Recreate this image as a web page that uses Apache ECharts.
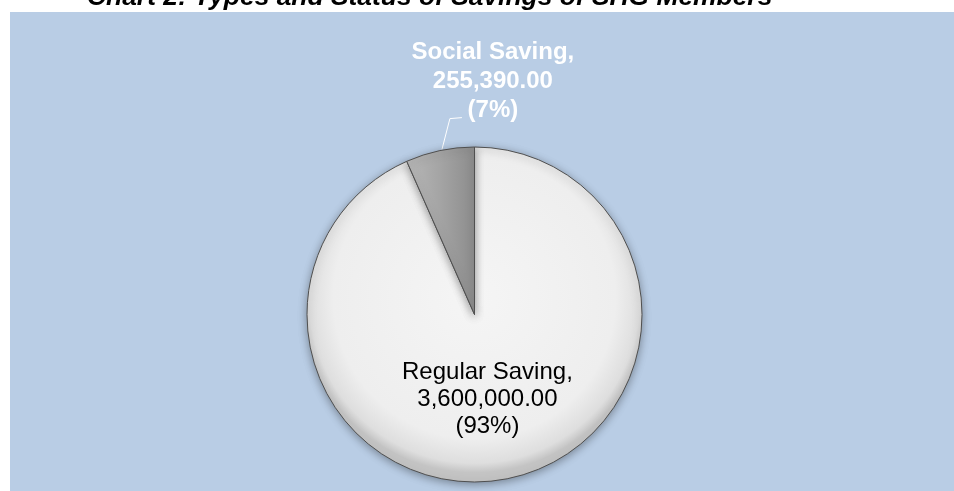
<!DOCTYPE html>
<html>
<head>
<meta charset="utf-8">
<script src="https://cdn.jsdelivr.net/npm/echarts@6/dist/echarts.min.js"></script>
<style>
  html, body { margin: 0; padding: 0; background: #ffffff; }
  #chart { width: 954px; height: 491px; }
</style>
</head>
<body>
<div id="chart"></div>
<script>
// ---- data ----
var categories = ['Regular Saving', 'Social Saving'];
var amounts = [3600000.00, 255390.00];
var chartTitle = 'Chart 2: Types and Status of Savings of SHG Members';

// ---- helpers ----
function fmtAmount(v) {
  return Number(v).toLocaleString('en-US', { minimumFractionDigits: 2, maximumFractionDigits: 2 });
}

var FONT = '"Liberation Sans", Arial, sans-serif';

var sliceStyles = [
  {
    color: {
      type: 'radial', x: 0.5, y: 0.45, r: 0.56,
      colorStops: [
        { offset: 0, color: '#f5f5f5' },
        { offset: 0.75, color: '#eeeeee' },
        { offset: 0.88, color: '#dedede' },
        { offset: 0.93, color: '#c4c4c4' }
      ]
    },
    borderColor: '#505050', borderWidth: 1,
    shadowBlur: 8, shadowColor: 'rgba(0,0,0,0.35)', shadowOffsetY: 2
  },
  {
    color: {
      type: 'linear', x: 0, y: 0, x2: 1, y2: 0,
      colorStops: [
        { offset: 0, color: '#b8b8b8' },
        { offset: 0.5, color: '#a4a4a4' },
        { offset: 1, color: '#8c8c8c' }
      ]
    },
    borderColor: '#505050', borderWidth: 1,
    shadowBlur: 8, shadowColor: 'rgba(0,0,0,0.35)', shadowOffsetY: 2
  }
];

var labelStyles = [
  { show: true, position: 'inside', color: '#000000', fontSize: 24, fontWeight: 'normal', lineHeight: 27, fontFamily: FONT, overflow: 'none' },
  { show: true, position: 'outside', color: '#ffffff', fontSize: 24, fontWeight: 'bold', lineHeight: 29, fontFamily: FONT, overflow: 'none' }
];

var pieData = categories.map(function (name, i) {
  return {
    name: name,
    value: amounts[i],
    itemStyle: sliceStyles[i],
    label: labelStyles[i],
    labelLine: { show: i === 1, lineStyle: { color: '#ffffff', width: 1 } }
  };
});

var chart = echarts.init(document.getElementById('chart'), null, { renderer: 'canvas' });

var option = {
  backgroundColor: '#ffffff',
  animation: false,
  title: {
    text: chartTitle,
    left: 87,
    top: -15,
    padding: 0,
    textStyle: {
      fontFamily: FONT,
      fontSize: 26.4,
      fontWeight: 'bold',
      fontStyle: 'italic',
      color: '#000000'
    }
  },
  graphic: [
    {
      type: 'rect',
      left: 10,
      top: 12,
      z: -10,
      silent: true,
      shape: { width: 944, height: 479 },
      style: { fill: '#B9CDE5' }
    }
  ],
  series: [
    {
      type: 'pie',
      center: [474.5, 314.5],
      radius: 167.5,
      startAngle: 90,
      clockwise: true,
      percentPrecision: 0,
      avoidLabelOverlap: false,
      label: {
        formatter: function (p) {
          return p.name + ',\n' + fmtAmount(p.value) + '\n(' + p.percent + '%)';
        }
      },
      labelLine: { length: 20, length2: 12 },
      labelLayout: function (p) {
        if (p.dataIndex === 1 && p.labelLinePoints) {
          var s = p.labelLinePoints[0];
          return {
            x: s[0] + 53,
            y: s[1] - 69,
            align: 'center',
            verticalAlign: 'middle',
            labelLinePoints: [
              [s[0] + 2, s[1] - 1],
              [s[0] + 10, s[1] - 32],
              [s[0] + 22, s[1] - 33]
            ]
          };
        }
        return { dx: -5, dy: 0, align: 'center' };
      },
      data: pieData
    }
  ]
};

chart.setOption(option);
</script>
</body>
</html>
